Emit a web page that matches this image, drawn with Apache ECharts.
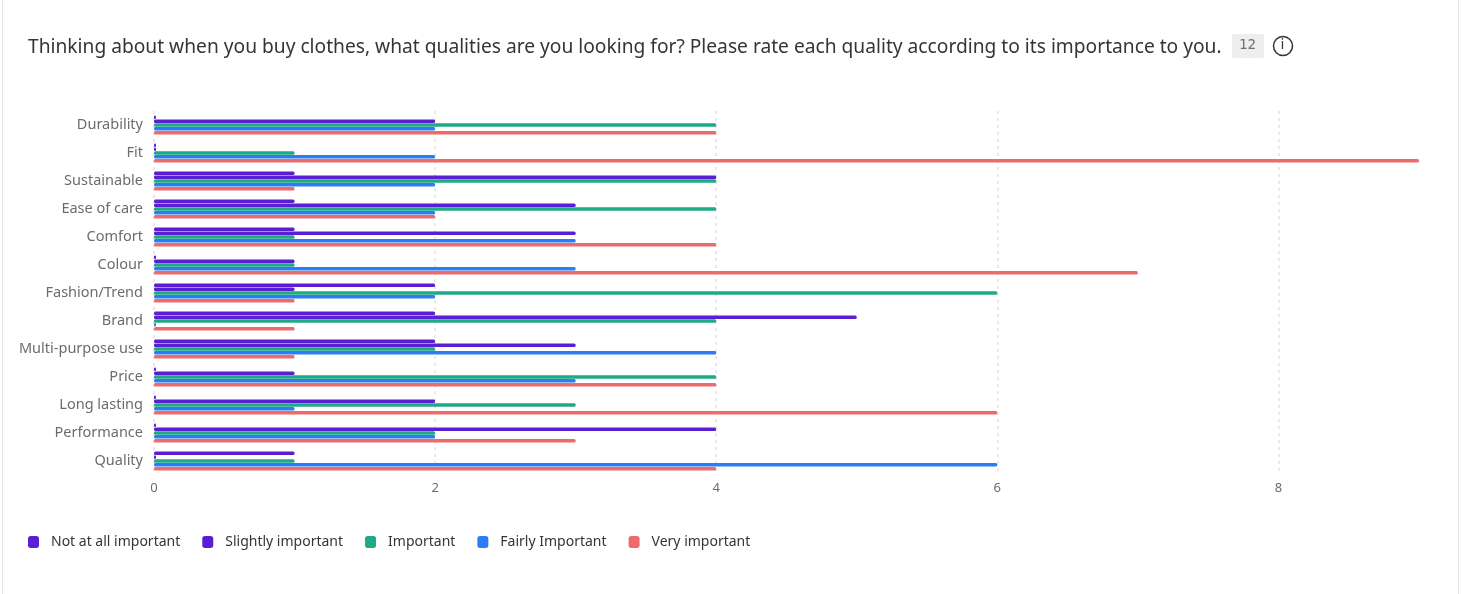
<!DOCTYPE html>
<html>
<head>
<meta charset="utf-8">
<script src="https://cdn.jsdelivr.net/npm/echarts@6/dist/echarts.min.js"></script>
<style>
  html, body { margin: 0; padding: 0; background: #fff; }
  #card {
    position: absolute; left: 2px; top: 0; width: 1455px; height: 594px;
    border-left: 1px solid #e4e4e4; border-right: 1px solid #e4e4e4;
  }
  #chart { position: absolute; left: 0; top: 0; width: 1461px; height: 594px; }
</style>
</head>
<body>
<div id="card"></div>
<div id="chart"></div>
<script>
// categories, top to bottom
const qualities = ['Durability', 'Fit', 'Sustainable', 'Ease of care', 'Comfort', 'Colour',
  'Fashion/Trend', 'Brand', 'Multi-purpose use', 'Price', 'Long lasting', 'Performance', 'Quality'];

// answers per quality (count of respondents)
const notAtAll   = [0, 0, 1, 1, 1, 0, 2, 2, 2, 0, 0, 0, 1];
const slightly   = [2, 0, 4, 3, 3, 1, 1, 5, 3, 1, 2, 4, 0];
const important  = [4, 1, 4, 4, 1, 1, 6, 4, 2, 4, 3, 2, 1];
const fairly     = [2, 2, 2, 2, 3, 3, 2, 0, 4, 3, 1, 2, 6];
const veryImp    = [4, 9, 1, 2, 4, 7, 1, 1, 1, 4, 6, 3, 4];

const seriesNames = ['Not at all important', 'Slightly important', 'Important', 'Fairly Important', 'Very important'];
const seriesColors = ['#5a1fd3', '#5a1fd3', '#1fa984', '#2b7cf6', '#ee6b6b'];
const seriesData = [notAtAll, slightly, important, fairly, veryImp];

const xTicks = [0, 2, 4, 6, 8];

const titleText = 'Thinking about when you buy clothes, what qualities are you looking for? Please rate each quality according to its importance to you.';
const responseCount = '12';

const FONT = '"Noto Sans", sans-serif';

const myChart = echarts.init(document.getElementById('chart'), null, { renderer: 'canvas' });

const option = {
  backgroundColor: 'transparent',
  animation: false,
  title: {
    text: titleText,
    left: 23,
    top: 33,
    textStyle: { fontFamily: FONT, fontSize: 19.2, fontWeight: 'normal', color: '#32363a' }
  },
  graphic: [
    {
      type: 'rect', left: 1232, top: 34,
      shape: { width: 32, height: 24, r: 2 },
      style: { fill: '#eeeeee' }
    },
    {
      type: 'text', left: 1239, top: 38,
      style: { text: responseCount, font: '14px "DejaVu Sans Mono", monospace', fill: '#707070' }
    },
    {
      type: 'circle', shape: { cx: 1283, cy: 46, r: 9.5 },
      style: { fill: 'none', stroke: '#32363a', lineWidth: 1.5 }
    },
    {
      type: 'text', left: 1280.5, top: 38,
      style: { text: 'i', font: '14px "DejaVu Sans", sans-serif', fill: '#32363a' }
    }
  ],
  legend: {
    left: 23,
    top: 530,
    itemWidth: 11,
    itemHeight: 12,
    itemGap: 22,
    icon: 'roundRect',
    textStyle: { fontFamily: FONT, fontSize: 14, color: '#32363a', padding: [0, 0, 0, 7] },
    data: seriesNames
  },
  grid: {
    left: 154,
    right: 42,
    top: 111,
    bottom: 119,
    containLabel: false
  },
  xAxis: {
    type: 'value',
    min: 0,
    max: 9,
    interval: 2,
    axisLine: { show: false },
    axisTick: { show: false, customValues: xTicks },
    axisLabel: { color: '#6a6d70', fontFamily: FONT, fontSize: 13, margin: 7, customValues: xTicks },
    splitLine: { lineStyle: { color: '#e2e2e2', width: 1.5, type: [3, 4] } }
  },
  yAxis: {
    type: 'category',
    inverse: true,
    data: qualities,
    axisLine: { show: false },
    axisTick: { show: false },
    axisLabel: { color: '#6a6d70', fontFamily: FONT, fontSize: 14.5, margin: 11 }
  },
  series: seriesNames.map((name, i) => ({
    type: 'bar',
    name: name,
    data: seriesData[i],
    barWidth: 3.5,
    barGap: '10%',
    barMinHeight: 2,
    itemStyle: { color: seriesColors[i], borderRadius: 1.5 }
  }))
};

myChart.setOption(option);
</script>
</body>
</html>
